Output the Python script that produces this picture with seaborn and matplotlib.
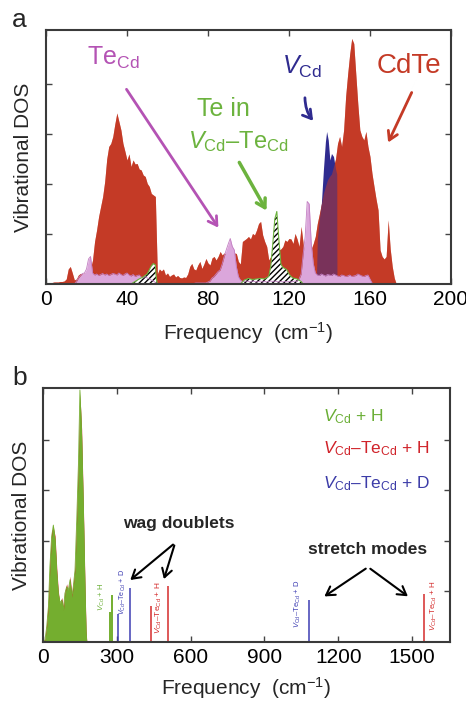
import numpy as np
import matplotlib
matplotlib.use("Agg")
import matplotlib.pyplot as plt
import seaborn as sns

# ---------------- Panel a data (frequency in cm^-1, DOS in arbitrary tick units) ----------------
cdte_freq = list(range(0, 174))
cdte_dos = [
    0.03, 0.03, 0.03, 0.03, 0.04, 0.04, 0.04, 0.05, 0.05, 0.06,
    0.10, 0.30, 0.35, 0.22, 0.08, 0.10, 0.18, 0.21, 0.20, 0.22,
    0.21, 0.24, 0.30, 0.48, 0.85, 1.08, 1.35, 1.55, 1.75, 2.05,
    2.50, 2.75, 2.81, 2.95, 3.20, 3.42, 3.25, 3.08, 2.81, 2.65,
    2.48, 2.60, 2.35, 2.48, 2.40, 2.41, 2.30, 2.28, 2.18, 2.15,
    2.01, 1.95, 1.81, 1.78, 1.75, 0.20, 0.30, 0.26, 0.30, 0.18,
    0.22, 0.15, 0.18, 0.20, 0.14, 0.17, 0.13, 0.12, 0.14, 0.13,
    0.20, 0.35, 0.41, 0.30, 0.28, 0.38, 0.45, 0.31, 0.40, 0.51,
    0.42, 0.38, 0.52, 0.55, 0.48, 0.55, 0.65, 0.58, 0.62, 0.60,
    0.62, 0.63, 0.60, 0.62, 0.61, 0.45, 0.40, 0.85, 0.88, 0.91,
    0.95, 0.90, 1.01, 0.98, 1.08, 1.21, 1.25, 0.98, 0.85, 0.75,
    0.48, 0.55, 0.70, 0.80, 0.85, 0.68, 0.70, 0.75, 0.88, 0.85,
    0.91, 0.90, 0.81, 1.01, 0.90, 0.75, 1.15, 0.81, 0.60, 0.55,
    0.60, 0.70, 0.81, 0.95, 1.21, 1.40, 1.60, 1.81, 1.95, 2.08,
    2.15, 2.20, 2.35, 2.50, 2.81, 2.95, 2.75, 3.08, 3.75, 4.20,
    4.60, 4.91, 4.81, 4.20, 3.60, 3.08, 2.95, 2.88, 3.05, 2.75,
    2.55, 2.21, 1.95, 1.70, 1.48, 0.68, 0.55, 0.50, 0.55, 1.28,
    0.70, 0.35, 0.12, 0.00,
]

vcd_freq = [133.5, 134, 135, 136, 137, 138, 138.6, 139.4, 140.2, 141, 142, 143, 143.6, 143.7]
vcd_dos = [0.0, 0.90, 1.30, 1.61, 2.28, 2.85, 3.05, 2.88, 2.48, 2.61, 2.55, 2.30, 2.20, 0.0]

tecd_freq = list(range(0, 163))
tecd_dos = [
    0, 0, 0, 0, 0, 0, 0, 0, 0, 0,
    0, 0, 0, 0, 0, 0.05, 0.12, 0.17, 0.21, 0.22,
    0.30, 0.50, 0.55, 0.22, 0.18, 0.20, 0.17, 0.19, 0.21, 0.18,
    0.20, 0.17, 0.19, 0.21, 0.20, 0.18, 0.22, 0.19, 0.17, 0.20,
    0.22, 0.18, 0.16, 0.19, 0.15, 0.17, 0.18, 0.14, 0.12, 0.15,
    0.12, 0.10, 0.08, 0.06, 0.03, 0.01, 0.01, 0.01, 0.01, 0.01,
    0.01, 0.01, 0.01, 0.01, 0.01, 0.01, 0.01, 0.01, 0.01, 0.01,
    0.01, 0.01, 0.01, 0.01, 0.02, 0.02, 0.02, 0.02, 0.02, 0.02,
    0.04, 0.06, 0.12, 0.15, 0.20, 0.25, 0.28, 0.40, 0.55, 0.68,
    0.80, 0.91, 0.75, 0.68, 0.35, 0.15, 0.08, 0.05, 0.05, 0.06,
    0.05, 0.04, 0.06, 0.05, 0.04, 0.05, 0.06, 0.04, 0.05, 0.04,
    0.05, 0.06, 0.05, 0.06, 0.05, 0.04, 0.05, 0.04, 0.05, 0.04,
    0.05, 0.04, 0.05, 0.06, 0.05, 0.10, 0.20, 0.60, 0.95, 1.65,
    1.60, 0.81, 0.41, 0.22, 0.18, 0.17, 0.20, 0.18, 0.16, 0.19,
    0.18, 0.17, 0.20, 0.18, 0.16, 0.15, 0.18, 0.17, 0.15, 0.16,
    0.18, 0.15, 0.16, 0.17, 0.20, 0.18, 0.16, 0.15, 0.17, 0.18,
    0.10, 0.02, 0.0,
]

te_in_vte_freq = [42, 44, 46, 48, 50, 51, 52, 53, 54, 54.5, 55,
                  96, 98, 100, 102, 104, 106, 108, 110, 111, 112, 113, 114,
                  115, 116, 117, 118, 119, 120, 121, 122, 124, 126, 127]
te_in_vte_dos = [0.0, 0.05, 0.10, 0.14, 0.20, 0.28, 0.36, 0.41, 0.38, 0.10, 0.0,
                 0.0, 0.08, 0.11, 0.09, 0.10, 0.11, 0.10, 0.15, 0.35, 0.80, 1.30, 1.45,
                 0.90, 0.40, 0.33, 0.31, 0.28, 0.20, 0.15, 0.12, 0.10, 0.05, 0.0]

# ---------------- Panel b data ----------------
low_freq = [0, 8, 15, 22, 28, 35, 42, 49, 56, 62, 69, 76, 83, 89, 96, 103, 110, 117,
            123, 130, 137, 144, 150, 157, 164, 171, 175, 178]
vcd_h_low = [0, 0.04, 0.30, 0.70, 1.49, 2.08, 2.31, 2.01, 1.36, 0.96, 0.77, 0.83, 0.63,
             0.96, 1.09, 1.03, 1.23, 0.89, 1.09, 1.42, 2.41, 3.53, 4.98, 4.06, 2.61,
             0.96, 0.17, 0]
vte_h_low = [0, 0.06, 0.38, 0.85, 1.62, 2.20, 2.25, 2.10, 1.45, 1.02, 0.72, 0.88, 0.70,
             1.00, 1.15, 0.98, 1.30, 0.95, 1.15, 1.50, 2.55, 3.70, 4.90, 4.20, 2.70,
             1.05, 0.25, 0]

vcd_h_modes = [274, 279]
vcd_h_heights = [0.60, 0.93]
vte_d_modes = [304, 355, 1081]
vte_d_heights = [0.55, 1.06, 0.82]
vte_h_modes = [438, 507, 1550]
vte_h_heights = [0.72, 1.11, 0.94]

a_xticks = [0, 40, 80, 120, 160, 200]
b_xticks = [0, 300, 600, 900, 1200, 1500]
y_ticks = [1, 2, 3, 4]

# ---------------- Style ----------------
sns.set_theme(style="ticks")
plt.rcParams["font.family"] = ["Liberation Sans", "DejaVu Sans"]
plt.rcParams.update({
    "mathtext.fontset": "custom",
    "mathtext.rm": "Liberation Sans",
    "mathtext.it": "Liberation Sans:italic",
    "mathtext.bf": "Liberation Sans:bold",
    "hatch.linewidth": 1.0,
})

RED = "#c43a26"
BLUE = "#2f2b8f"
PINK = "#dba6db"
PINKT = "#b453b4"
GREEN = "#6cb33e"
GREEN_B = "#74ae2f"
RED_B = "#d42b2b"
BLUE_B = "#3d3db3"

fig = plt.figure(figsize=(4.66, 7.04), dpi=100)
axa = fig.add_axes([0.0987, 0.5966, 0.869, 0.3608])
axb = fig.add_axes([0.0923, 0.0881, 0.8734, 0.3608])

# ---------------- Panel a ----------------
axa.fill_between(cdte_freq, 0, cdte_dos, color=RED, lw=0)
axa.fill_between(vcd_freq, 0, vcd_dos, color=BLUE, lw=0)
axa.fill_between(cdte_freq, 0, cdte_dos, color=RED, alpha=0.5, lw=0)
axa.fill_between(tecd_freq, 0, tecd_dos, color=PINK, lw=0)
sns.lineplot(x=tecd_freq, y=tecd_dos, ax=axa, color="#c27ec2", lw=0.6, estimator=None)
axa.fill_between(te_in_vte_freq, 0, te_in_vte_dos, facecolor="white",
                 edgecolor="black", hatch="//////", lw=0)
sns.lineplot(x=te_in_vte_freq, y=te_in_vte_dos, ax=axa, color=GREEN, lw=0.8,
             estimator=None)

axa.set_xlim(0, 200)
axa.set_ylim(0, 5.08)

arrow_kw = "->,head_length=0.5,head_width=0.3"
axa.text(20.4, 4.38, r"Te$_{\rm Cd}$", color=PINKT, fontsize=18, ha="left", va="baseline")
axa.annotate("", xy=(85.9, 1.08), xytext=(39, 3.94),
             arrowprops=dict(arrowstyle=arrow_kw, color=PINKT, lw=2))
axa.text(74.4, 3.35, "Te in", color=GREEN, fontsize=18, ha="left", va="baseline")
axa.text(70.3, 2.71, r"$V_{\rm Cd}$–Te$_{\rm Cd}$", color=GREEN, fontsize=17,
         ha="left", va="baseline")
axa.annotate("", xy=(109.6, 1.42), xytext=(94.8, 2.48),
             arrowprops=dict(arrowstyle=arrow_kw, color=GREEN, lw=2.5))
axa.text(116.4, 4.21, r"$V_{\rm Cd}$", color=BLUE, fontsize=18, ha="left", va="baseline")
axa.annotate("", xy=(132.8, 3.22), xytext=(127.9, 3.78),
             arrowprops=dict(arrowstyle=arrow_kw, color=BLUE, lw=2,
                             connectionstyle="arc3,rad=0.2"))
axa.text(163.3, 4.21, "CdTe", color=RED, fontsize=20, ha="left", va="baseline")
axa.annotate("", xy=(168.4, 2.78), xytext=(181.2, 3.88),
             arrowprops=dict(arrowstyle=arrow_kw, color=RED, lw=2))

# ---------------- Panel b ----------------
axb.fill_between(low_freq, 0, vte_h_low, color=RED_B, lw=0)
axb.fill_between(low_freq, 0, vcd_h_low, color=GREEN_B, lw=0)
sns.lineplot(x=low_freq, y=vcd_h_low, ax=axb, color=GREEN_B, lw=0.6, estimator=None)
axb.vlines(vcd_h_modes, 0, vcd_h_heights, color=GREEN_B, lw=1.4)
axb.vlines(vte_d_modes, 0, vte_d_heights, color=BLUE_B, lw=1.1)
axb.vlines(vte_h_modes, 0, vte_h_heights, color=RED_B, lw=1.1)
axb.set_xlim(0, 1654)
axb.set_ylim(0, 5.02)

axb.text(1137, 4.37, r"$V_{\rm Cd}$ + H", color="#6aae35", fontsize=12.5,
         ha="left", va="baseline")
axb.text(1137, 3.72, r"$V_{\rm Cd}$–Te$_{\rm Cd}$ + H", color="#d0232a", fontsize=12.5,
         ha="left", va="baseline")
axb.text(1137, 3.04, r"$V_{\rm Cd}$–Te$_{\rm Cd}$ + D", color="#3c3ca8", fontsize=12.5,
         ha="left", va="baseline")

axb.text(326, 2.25, "wag doublets", fontsize=12.5, fontweight="bold", ha="left",
         va="baseline")
for tip in [(346, 1.19), (488, 1.19)]:
    axb.annotate("", xy=tip, xytext=(537, 1.96),
                 arrowprops=dict(arrowstyle=arrow_kw, color="black", lw=1.5))
axb.text(1078, 1.73, "stretch modes", fontsize=12.5, fontweight="bold", ha="left",
         va="baseline")
for tip in [(1134, 0.87), (1492, 0.87)]:
    axb.annotate("", xy=tip, xytext=(1321, 1.48),
                 arrowprops=dict(arrowstyle=arrow_kw, color="black", lw=1.5))

small = [
    (240, 0.89, r"$V_{\rm Cd}$ + H", "#6aae35", 5.6),
    (324, 0.99, r"$V_{\rm Cd}$–Te$_{\rm Cd}$ + D", BLUE_B, 5.2),
    (472, 0.67, r"$V_{\rm Cd}$–Te$_{\rm Cd}$ + H", RED_B, 6.0),
    (1035, 0.75, r"$V_{\rm Cd}$–Te$_{\rm Cd}$ + D", BLUE_B, 5.5),
    (1587, 0.71, r"$V_{\rm Cd}$–Te$_{\rm Cd}$ + H", RED_B, 5.8),
]
for x, y, s, c, fs in small:
    axb.text(x, y, s, color=c, fontsize=fs, rotation=90, ha="center", va="center")

# ---------------- Axes styling ----------------
for ax, xt, lp in [(axa, a_xticks, 8), (axb, b_xticks, 6)]:
    ax.set_xticks(xt)
    ax.set_yticks(y_ticks)
    ax.set_yticklabels([])
    ax.tick_params(direction="in", length=4, width=1, top=True, right=True,
                   labelsize=15, pad=4, color="#444444", labelcolor="black")
    for sp in ax.spines.values():
        sp.set_color("#3a3a3a")
        sp.set_linewidth(1.5)
    ax.set_ylabel("Vibrational DOS", fontsize=15, labelpad=5)
    ax.set_xlabel(r"Frequency  (cm$^{-1}$)", fontsize=15, labelpad=lp)

fig.text(12 / 466, 1 - 27 / 704, "a", fontsize=19, ha="left", va="baseline")
fig.text(12 / 466, 1 - 385 / 704, "b", fontsize=19, ha="left", va="baseline")

fig.savefig("out.png", dpi=100)
